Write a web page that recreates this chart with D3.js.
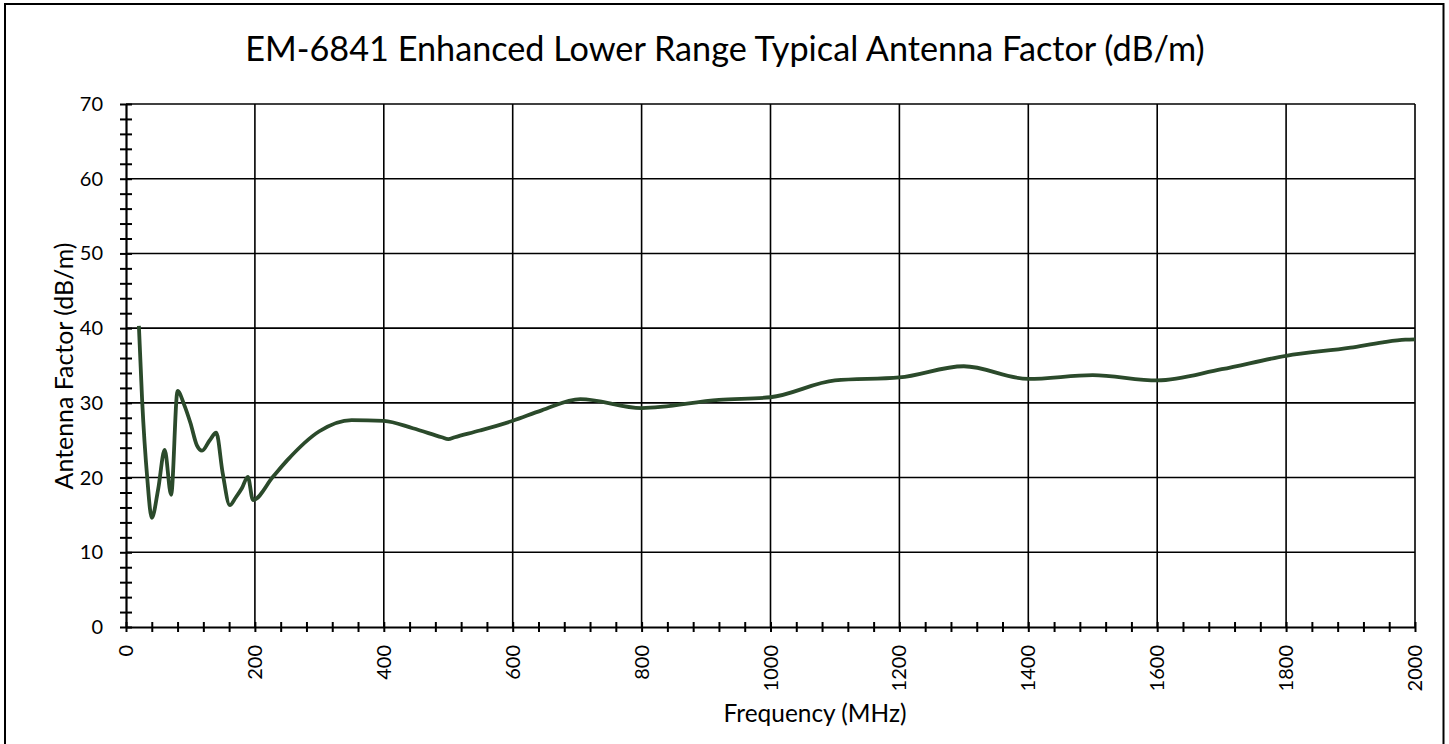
<!DOCTYPE html>
<html><head><meta charset="utf-8">
<script src="https://cdn.jsdelivr.net/npm/d3@7"></script>
<style>html,body{margin:0;padding:0;background:#fff;}svg{display:block;}</style>
</head><body>
<svg id="chart" width="1449" height="744"></svg>
<script>
const titleText = "EM-6841 Enhanced Lower Range Typical Antenna Factor (dB/m)";
const xTitle = "Frequency (MHz)";
const yTitle = "Antenna Factor (dB/m)";
const xTicks = [0,200,400,600,800,1000,1200,1400,1600,1800,2000];
const yTicks = [0,10,20,30,40,50,60,70];
const freq = [20,25,33,40,50,60,70,80,90,100,110,118,130,140,150,161,170,180,189,197,228,250,300,350,400,445,490,500,510,549,600,645,705,800,920,1000,1100,1200,1300,1400,1500,1600,1700,1800,1900,1950,1985,2000];
const af   = [40.3,30.4,19.9,14.6,18.5,23.7,17.7,31.6,29.8,27.3,24.3,23.6,25.0,26.0,20.6,16.3,17.3,18.6,20.1,17.0,20.1,22.3,26.2,27.7,27.6,26.6,25.4,25.15,25.4,26.3,27.6,29.0,30.5,29.3,30.4,30.75,33.0,33.4,34.9,33.2,33.7,33.0,34.5,36.3,37.4,38.1,38.45,38.5];

const svg = d3.select("#chart");
const font = "Lato, 'Open Sans', sans-serif";
const L = 126, R = 1415, T = 104, B = 627;
const x = d3.scaleLinear().domain([0,2000]).range([L,R]);
const y = d3.scaleLinear().domain([0,70]).range([B,T]);

svg.append("rect").attr("x",5).attr("y",4).attr("width",1438.5).attr("height",745)
  .attr("fill","#fff").attr("stroke","#000").attr("stroke-width",2);

// grid
const g = svg.append("g");
g.selectAll(".hg").data(yTicks.filter(d=>d>0)).join("line")
  .attr("x1",L).attr("x2",R).attr("y1",d=>y(d)).attr("y2",d=>y(d))
  .attr("stroke","#000").attr("stroke-width",1.6);
g.selectAll(".vg").data(xTicks.filter(d=>d>0)).join("line")
  .attr("y1",T).attr("y2",B).attr("x1",d=>x(d)).attr("x2",d=>x(d))
  .attr("stroke","#000").attr("stroke-width",1.6);

// axes
const xAxis = d3.axisBottom(x).tickValues(d3.range(0,2001,40)).tickSize(0).tickFormat("");
const yAxis = d3.axisLeft(y).tickValues(d3.range(0,71,2)).tickSize(0).tickFormat("");
const gx = svg.append("g").attr("transform",`translate(0,${B})`).call(xAxis);
gx.select(".domain").attr("stroke","#000").attr("stroke-width",2.2);
gx.selectAll(".tick line").attr("y1",-5).attr("y2",5).attr("stroke","#000").attr("stroke-width",2);
const gy = svg.append("g").attr("transform",`translate(${L},0)`).call(yAxis);
gy.select(".domain").attr("stroke","#000").attr("stroke-width",2.2);
gy.selectAll(".tick line").attr("x1",-6).attr("x2",6).attr("stroke","#000").attr("stroke-width",2);

// tick labels
svg.append("g").selectAll("text").data(yTicks).join("text")
  .attr("x",103).attr("y",d=>y(d)).attr("dy","0.35em").attr("text-anchor","end")
  .attr("font-family",font).attr("font-size",20).attr("fill","#000").text(d=>d);
svg.append("g").selectAll("text").data(xTicks).join("text")
  .attr("transform",d=>`translate(${x(d)},645) rotate(-90)`)
  .attr("dy","0.35em").attr("text-anchor","end")
  .attr("font-family",font).attr("font-size",20).attr("fill","#000").text(d=>d);

// titles
const t = svg.append("text").attr("x",725).attr("y",61).attr("text-anchor","middle")
  .attr("font-family",font).attr("font-size",32).attr("fill","#000").text(titleText);
const tw = t.node().getComputedTextLength();
t.attr("font-size", 32*960/tw);
const xt = svg.append("text").attr("x",815).attr("y",722).attr("text-anchor","middle")
  .attr("font-family",font).attr("font-size",21).attr("fill","#000").text(xTitle);
xt.attr("font-size",21*183/xt.node().getComputedTextLength());
const yt = svg.append("text").attr("transform","translate(64,366) rotate(-90)").attr("text-anchor","middle")
  .attr("dy","0.35em").attr("font-family",font).attr("font-size",21).attr("fill","#000").text(yTitle);
yt.attr("font-size",21*247/yt.node().getComputedTextLength());

// line
const data = freq.map((f,i)=>({f, v:af[i]}));
svg.append("path").datum(data)
  .attr("d", d3.line().x(d=>x(d.f)).y(d=>y(d.v)).curve(d3.curveMonotoneX))
  .attr("fill","none").attr("stroke","#2b4a2b").attr("stroke-width",3.8)
  .attr("stroke-linejoin","round").attr("stroke-linecap","butt");
</script>
</body></html>
